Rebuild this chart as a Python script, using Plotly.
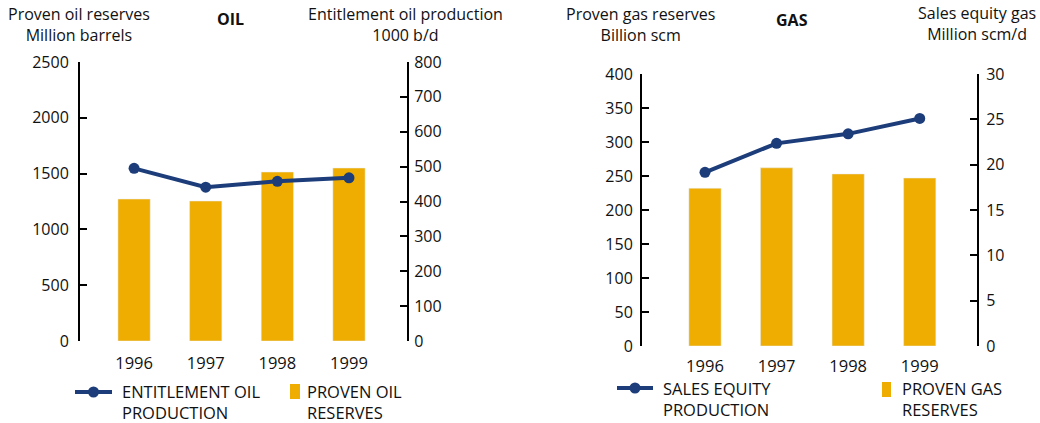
import plotly.graph_objects as go

W, H = 1040, 423

years = ["1996", "1997", "1998", "1999"]
oil_reserves = [1272, 1254, 1514, 1550]          # Million barrels
oil_production = [495, 441, 458, 468]            # 1000 b/d
gas_reserves = [232, 262, 253, 247]              # Billion scm
gas_production = [19.15, 22.35, 23.4, 25.1]      # Million scm/d

GOLD = "#EEAD00"
NAVY = "#1C3D7A"
FONT = "Open Sans"


def px(x):
    return x / W


def py(y):
    return (H - y) / H


fig = go.Figure()

fig.add_trace(go.Bar(x=years, y=oil_reserves, marker_color=GOLD, width=0.45,
                     xaxis="x", yaxis="y", hoverinfo="skip"))
fig.add_trace(go.Scatter(x=years, y=oil_production, mode="lines+markers",
                         line=dict(color=NAVY, width=4),
                         marker=dict(color=NAVY, size=11),
                         xaxis="x", yaxis="y2", hoverinfo="skip"))
fig.add_trace(go.Bar(x=years, y=gas_reserves, marker_color=GOLD, width=0.45,
                     xaxis="x2", yaxis="y3", hoverinfo="skip"))
fig.add_trace(go.Scatter(x=years, y=gas_production, mode="lines+markers",
                         line=dict(color=NAVY, width=4),
                         marker=dict(color=NAVY, size=11),
                         xaxis="x2", yaxis="y4", hoverinfo="skip"))

tickfont = dict(family=FONT, size=16, color="#111")
yax = dict(showline=True, linecolor="black", linewidth=2, ticks="inside",
           ticklen=7, tickwidth=2, tickcolor="black", showgrid=False,
           zeroline=False, tickfont=tickfont, fixedrange=True, automargin=False)
xax = dict(type="category", showline=False, ticks="", showgrid=False,
           zeroline=False, tickfont=dict(tickfont, size=16.5),
           automargin=False, fixedrange=True)

fig.update_layout(
    width=W, height=H,
    margin=dict(l=0, r=0, t=0, b=0, autoexpand=False),
    paper_bgcolor="white", plot_bgcolor="rgba(0,0,0,0)",
    showlegend=False,
    font=dict(family=FONT, color="#111"),
    xaxis=dict(xax, domain=[px(80), px(407)], range=[-0.755, 3.81], anchor="y",
               ticklabelstandoff=10),
    yaxis=dict(yax, domain=[py(341), py(62)], range=[0, 2500], dtick=500,
               anchor="x", ticklabelstandoff=6),
    yaxis2=dict(yax, range=[0, 800], dtick=100, overlaying="y", side="right",
                anchor="x", ticklabelstandoff=2),
    xaxis2=dict(xax, domain=[px(642), px(977)], range=[-0.88, 3.80], anchor="y3",
                ticklabelstandoff=8),
    yaxis3=dict(yax, domain=[py(346), py(74)], range=[0, 400], dtick=50,
                anchor="x2", ticklabelstandoff=4),
    yaxis4=dict(yax, range=[0, 30], dtick=5, overlaying="y3", side="right",
                anchor="x2", ticklabelstandoff=4),
)

ann = []


def text(x, y, t, xanchor="center", size=16, bold=False):
    ann.append(dict(x=px(x), y=py(y), xref="paper", yref="paper", text=t,
                    showarrow=False, xanchor=xanchor, yanchor="middle",
                    align=xanchor if xanchor != "center" else "center",
                    font=dict(family=FONT, size=size, color="#111",
                              weight="bold" if bold else "normal")))


text(79, 25, "Proven oil reserves<br>Million barrels")
text(230, 19, "OIL", bold=True)
text(405, 25, "Entitlement oil production<br>1000 b/d")
text(640, 25, "Proven gas reserves<br>Billion scm")
text(792, 20, "GAS", bold=True)
text(977, 24, "Sales equity gas<br>Million scm/d")

text(120, 402, "ENTITLEMENT OIL<br>PRODUCTION", xanchor="left", size=16.5)
text(305, 402, "PROVEN OIL<br>RESERVES", xanchor="left", size=16.5)
text(661, 399, "SALES EQUITY<br>PRODUCTION", xanchor="left", size=16.5)
text(900, 399, "PROVEN GAS<br>RESERVES", xanchor="left", size=16.5)

shapes = []


def legend_line(x0, x1, y):
    shapes.append(dict(type="line", xref="paper", yref="paper",
                       x0=px(x0), x1=px(x1), y0=py(y), y1=py(y),
                       line=dict(color=NAVY, width=4)))
    cx = (x0 + x1) / 2
    shapes.append(dict(type="circle", xref="paper", yref="paper",
                       x0=px(cx - 5.5), x1=px(cx + 5.5),
                       y0=py(y + 5.5), y1=py(y - 5.5),
                       fillcolor=NAVY, line=dict(width=0)))


def legend_box(x0, x1, y0, y1):
    shapes.append(dict(type="rect", xref="paper", yref="paper",
                       x0=px(x0), x1=px(x1), y0=py(y1), y1=py(y0),
                       fillcolor=GOLD, line=dict(width=0)))


legend_line(75, 112, 392)
legend_box(290, 300, 384, 399)
legend_line(617, 653, 388)
legend_box(882, 891, 382, 397)

fig.update_layout(annotations=ann, shapes=shapes)

fig.write_html("out.html",
               config={"displayModeBar": False, "staticPlot": True},
               post_script="document.body.style.margin='0';"
                           "document.body.style.overflow='hidden';")
